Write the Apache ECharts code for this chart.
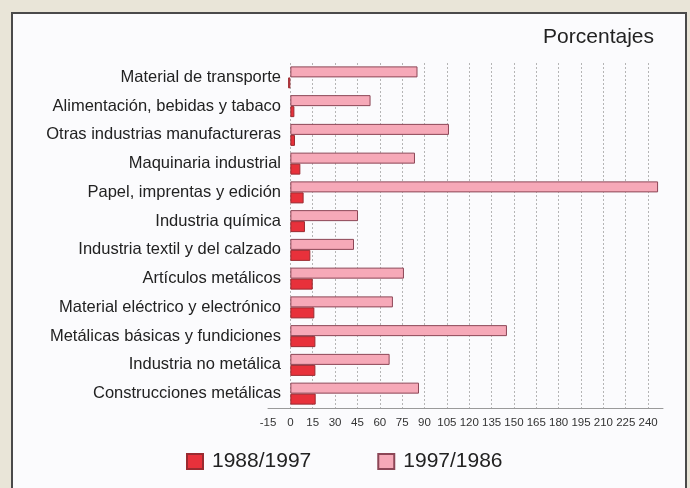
<!DOCTYPE html>
<html>
<head>
<meta charset="utf-8">
<script src="https://cdn.jsdelivr.net/npm/echarts@6/dist/echarts.min.js"></script>
<style>
html,body{margin:0;padding:0;background:#e9e5d8;}
#frame{position:absolute;left:11px;top:12px;width:676px;height:490px;background:#fbfbfd;border:2px solid #4a4a4a;box-sizing:border-box;}
#chart{position:absolute;left:0;top:0;width:690px;height:488px;}
</style>
</head>
<body>
<div id="frame"></div>
<div id="chart"></div>
<script>
const categories = [
  'Material de transporte',
  'Alimentación, bebidas y tabaco',
  'Otras industrias manufactureras',
  'Maquinaria industrial',
  'Papel, imprentas y edición',
  'Industria química',
  'Industria textil y del calzado',
  'Artículos metálicos',
  'Material eléctrico y electrónico',
  'Metálicas básicas y fundiciones',
  'Industria no metálica',
  'Construcciones metálicas'
];
const values8897 = [-1.5, 2.7, 3.1, 6.7, 8.9, 9.8, 13.4, 15.0, 16.1, 16.8, 16.8, 17.0];
const values9786 = [85.3, 53.8, 106.4, 83.6, 246.7, 45.4, 42.7, 76.2, 68.8, 145.3, 66.6, 86.3];
const seriesNames = ['1988/1997', '1997/1986'];
const axisMin = -15, axisMax = 250, axisStep = 15;

const font = 'Liberation Sans, Arial, Helvetica, sans-serif';
const chart = echarts.init(document.getElementById('chart'), null, {renderer: 'canvas'});
chart.setOption({
  backgroundColor: 'transparent',
  animation: false,
  title: {
    text: 'Porcentajes', right: 31, top: 22,
    textStyle: {fontFamily: font, fontSize: 21, fontWeight: 'normal', color: '#222'}
  },
  legend: {
    data: seriesNames, icon: 'rect',
    left: 181, top: 446, itemWidth: 16, itemHeight: 15, itemGap: 66,
    textStyle: {fontFamily: font, fontSize: 21, color: '#222', padding: [0, 0, 0, 4]}
  },
  grid: {left: 268, right: 27, top: 63, bottom: 80, containLabel: false},
  xAxis: {
    type: 'value', min: axisMin, max: axisMax, interval: axisStep,
    axisLine: {show: true, lineStyle: {color: '#9a9a9a', width: 1}},
    axisTick: {show: false},
    axisLabel: {
      fontFamily: font, fontSize: 11.5, color: '#333', margin: 9,
      formatter: v => (v === axisMax ? '' : String(v))
    },
    splitLine: {show: true, showMinLine: false, showMaxLine: false, lineStyle: {color: '#b5b5b5', type: [2, 2], width: 1}}
  },
  yAxis: {
    type: 'category', data: categories, inverse: true, offset: -22,
    axisLine: {show: false},
    axisTick: {show: false},
    axisLabel: {fontFamily: font, fontSize: 16.5, color: '#222', margin: 9}
  },
  series: [
    {
      name: seriesNames[1], type: 'bar', data: values9786,
      barWidth: 11, barGap: '0%',
      itemStyle: {color: '#f6a9b8', borderColor: '#8c4656', borderWidth: 1}
    },
    {
      name: seriesNames[0], type: 'bar', data: values8897,
      barWidth: 11, barGap: '0%',
      itemStyle: {color: '#e8313b', borderColor: '#9a2a30', borderWidth: 1}
    }
  ]
});
</script>
</body>
</html>
